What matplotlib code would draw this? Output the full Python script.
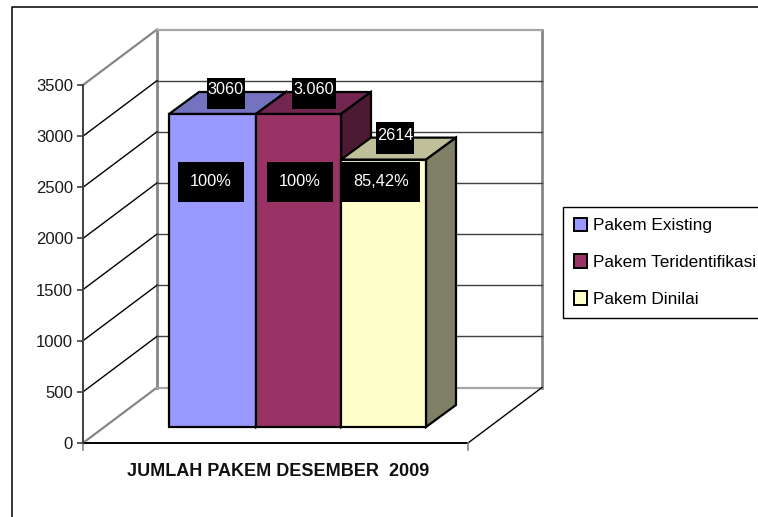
import matplotlib
matplotlib.use('Agg')
import matplotlib.pyplot as plt
from matplotlib.patches import Polygon, Patch

# данные
categories = ['Pakem Existing', 'Pakem Teridentifikasi', 'Pakem Dinilai']
values = [3060, 3060, 2614]
top_labels = ['3060', '3.060', '2614']
pct_labels = ['100%', '100%', '85,42%']
yticks = [0, 500, 1000, 1500, 2000, 2500, 3000, 3500]
xlabel = 'JUMLAH PAKEM DESEMBER  2009'
front_colors = ['#9999FF', '#993366', '#FFFFCC']
top_colors = ['#7373BF', '#732650', '#BFBF99']
side_colors = ['#5C5C99', '#4D1A33', '#808066']

plt.rcParams['font.family'] = ['Liberation Sans', 'DejaVu Sans']

W, H = 758, 517
Y0 = 443
fig = plt.figure(figsize=(W / 100, H / 100), dpi=100)
ax = fig.add_axes([0, 0, 1, 1])
# ось x в пикселях, ось y в значениях
k = (Y0 - 85) / 3500
ax.set_xlim(0, W)
ax.set_ylim(-(H - Y0) / k, Y0 / k)
for s in ['top', 'right', 'bottom']:
    ax.spines[s].set_visible(False)


def py(p):
    # пиксель сверху -> значение по оси y
    return (Y0 - p) / k


def black_box(x_a, x_b, y_a, y_b, z=10):
    ax.add_patch(Polygon([(x_a, py(y_a)), (x_b, py(y_a)), (x_b, py(y_b)), (x_a, py(y_b))],
                         fc='black', ec='none', zorder=z))


x0, x1 = 83, 468
wall_dx, wall_dy = 74, 55.5 / k
grey = '#868686'

# рамка всей диаграммы
fig.add_artist(plt.Line2D([11.5 / W, 11.5 / W, 1], [0, 1 - 6.5 / H, 1 - 6.5 / H], color='black', lw=1.1))

# стены и сетка
ymax = yticks[-1]
ax.plot([x0, x0 + wall_dx], [0, wall_dy], color=grey, lw=1.6, zorder=1)
ax.plot([x0, x0 + wall_dx], [ymax, ymax + wall_dy], color=grey, lw=1.6, zorder=1)
ax.plot([x0 + wall_dx] * 2, [wall_dy, ymax + wall_dy], color=grey, lw=2, zorder=1)
ax.plot([x1 + wall_dx] * 2, [wall_dy, ymax + wall_dy], color=grey, lw=2, zorder=1)
ax.plot([x0 + wall_dx, x1 + wall_dx], [ymax + wall_dy] * 2, color='#a6a6a6', lw=1.6, zorder=1)
ax.plot([x0 + wall_dx, x1 + wall_dx], [wall_dy] * 2, color='#a6a6a6', lw=1.6, zorder=1)
ax.plot([x1, x1 + wall_dx], [0, wall_dy], color='black', lw=1, zorder=1)
for t in yticks[1:-1]:
    ax.plot([x0, x0 + wall_dx], [t, t + wall_dy], color='black', lw=1, zorder=1)
    ax.plot([x0 + wall_dx, x1 + wall_dx], [t + wall_dy] * 2, color='#404040', lw=1, zorder=1)

# столбцы
bar_x = [169, 256, 341]
bar_w = [87, 85, 85]
base = 16 / k
dx, dy = 30, 22 / k
for i, v in enumerate(values):
    a, b = bar_x[i], bar_x[i] + bar_w[i]
    top = base + v
    ax.add_patch(Polygon([(a, top), (a + dx, top + dy), (b + dx, top + dy), (b, top)],
                         fc=top_colors[i], ec='black', lw=1.6, zorder=3 + i))
    ax.add_patch(Polygon([(b, base), (b + dx, base + dy), (b + dx, top + dy), (b, top)],
                         fc=side_colors[i], ec='black', lw=1.6, zorder=3 + i))
    ax.add_patch(Polygon([(a, base), (b, base), (b, top), (a, top)],
                         fc=front_colors[i], ec='black', lw=1.6, zorder=3 + i))

# подписи на столбцах: чёрные плашки и белый текст
top_boxes = [(207, 245, 78, 109), (292, 336, 78, 109), (376, 414, 122, 154)]
top_text_y = [90, 90, 135]
for i in range(3):
    xa, xb, ya, yb = top_boxes[i]
    black_box(xa, xb, ya, yb)
    ax.text((xa + xb) / 2, py(top_text_y[i]), top_labels[i], color='white', fontsize=11.7,
            ha='center', va='center', zorder=11)
pct_boxes = [(178, 244), (267, 333), (342, 420)]
for i in range(3):
    xa, xb = pct_boxes[i]
    black_box(xa, xb, 162, 202)
    ax.text((xa + xb) / 2, py(181), pct_labels[i], color='white', fontsize=11.8,
            ha='center', va='center', zorder=11)

# ось y
ax.spines['left'].set_position(('data', x0))
ax.spines['left'].set_bounds(0, ymax)
ax.spines['left'].set_color('#404040')
ax.spines['left'].set_linewidth(1.4)
ax.set_yticks(yticks)
ax.tick_params(axis='y', length=4.3, width=1.2, color='#404040', labelsize=12, pad=2.9, labelcolor='#1a1a1a')
ax.set_xticks([])
ax.plot([x0, x1], [0, 0], color='black', lw=1.4, zorder=2)
ax.plot([x0, x0], [0, -7 / k], color=grey, lw=1.2)
ax.plot([x1, x1], [0, -7 / k], color=grey, lw=1.2)

ax.text(278, py(471), xlabel, fontsize=13, fontweight='bold', ha='center', va='center', color='#111111')

# легенда
handles = [Patch(fc=c, ec='black', lw=1.4) for c in front_colors]
leg = ax.legend(handles, categories, loc='upper left', bbox_to_anchor=(563 / W, 1 - 207 / H),
                frameon=True, fancybox=False, edgecolor='black', framealpha=1, fontsize=12.4,
                handlelength=0.81, handleheight=0.81, handletextpad=0.32, labelspacing=1.24,
                borderpad=0.61, borderaxespad=0)
leg.get_frame().set_linewidth(1)

fig.savefig('out.png', dpi=100)
